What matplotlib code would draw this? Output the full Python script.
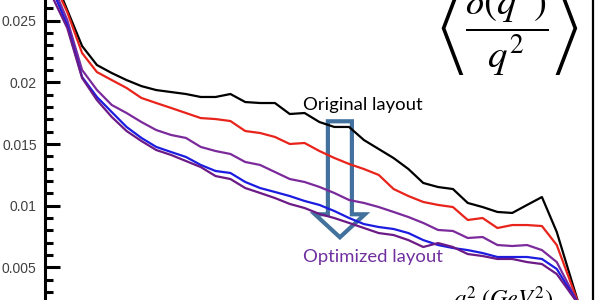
import matplotlib
matplotlib.use("Agg")
import matplotlib.pyplot as plt
from matplotlib.ticker import MultipleLocator
from matplotlib.patches import Polygon
from matplotlib.transforms import Affine2D

# q^2 bins (arbitrary bin units along the axis)
q2 = [0.5, 1.5, 2.5, 3.5, 4.5, 5.5, 6.5, 7.5, 8.5, 9.5,
      10.5, 11.5, 12.5, 13.5, 14.5, 15.5, 16.5, 17.5, 18.5, 19.5,
      20.5, 21.5, 22.5, 23.5, 24.5, 25.5, 26.5, 27.5, 28.5, 29.5,
      30.5, 31.5, 32.5, 33.5, 34.5, 36.0]

original = [0.02881, 0.02587, 0.02295, 0.02141, 0.02076, 0.02019, 0.01970, 0.01938, 0.01922, 0.01906,
            0.01882, 0.01882, 0.01906, 0.01841, 0.01833, 0.01833, 0.01744, 0.01752, 0.01679, 0.01639,
            0.01639, 0.01533, 0.01460, 0.01387, 0.01298, 0.01185, 0.01152, 0.01136, 0.01023, 0.00990,
            0.00950, 0.00942, 0.01007, 0.01071, 0.00788, 0.00196]
step1 = [0.02830, 0.02570, 0.02238, 0.02084, 0.02019, 0.01955, 0.01874, 0.01833, 0.01793, 0.01752,
         0.01711, 0.01703, 0.01687, 0.01606, 0.01590, 0.01558, 0.01501, 0.01509, 0.01444, 0.01388,
         0.01339, 0.01298, 0.01250, 0.01136, 0.01079, 0.01031, 0.01007, 0.00990, 0.00885, 0.00901,
         0.00820, 0.00844, 0.00844, 0.00836, 0.00682, 0.00196]
step2 = [0.02789, 0.02506, 0.02101, 0.01939, 0.01817, 0.01752, 0.01679, 0.01614, 0.01574, 0.01550,
         0.01477, 0.01444, 0.01420, 0.01355, 0.01331, 0.01274, 0.01217, 0.01193, 0.01153, 0.01104,
         0.01047, 0.01023, 0.00990, 0.00950, 0.00909, 0.00861, 0.00804, 0.00796, 0.00739, 0.00747,
         0.00682, 0.00674, 0.00682, 0.00641, 0.00544, 0.00196]
step3 = [0.02749, 0.02465, 0.02044, 0.01882, 0.01760, 0.01639, 0.01550, 0.01477, 0.01436, 0.01396,
         0.01331, 0.01282, 0.01266, 0.01193, 0.01144, 0.01112, 0.01079, 0.01039, 0.01007, 0.00958,
         0.00901, 0.00852, 0.00828, 0.00812, 0.00779, 0.00722, 0.00682, 0.00658, 0.00641, 0.00617,
         0.00585, 0.00585, 0.00585, 0.00569, 0.00488, 0.00196]
optimized = [0.02692, 0.02441, 0.02036, 0.01857, 0.01720, 0.01606, 0.01525, 0.01452, 0.01412, 0.01363,
             0.01314, 0.01241, 0.01217, 0.01144, 0.01104, 0.01063, 0.01015, 0.00982, 0.00934, 0.00901,
             0.00861, 0.00820, 0.00779, 0.00763, 0.00722, 0.00666, 0.00698, 0.00666, 0.00609, 0.00593,
             0.00569, 0.00569, 0.00544, 0.00528, 0.00447, 0.00196]

series = [original, step1, step2, step3, optimized]
colors = ['#000000', '#e8231b', '#7b2a9c', '#1c1ce0', '#6c1a86']

plt.rcParams['mathtext.fontset'] = 'stix'

fig = plt.figure(figsize=(6, 3), dpi=100)
ax = fig.add_axes([0.075, 0.0, 0.913, 1.0])

for vals, c in zip(series, colors):
    ax.plot(q2, vals, color=c, lw=1.6)

ax.set_xlim(0, 36.93)
ax.set_ylim(0.002365, 0.02668)

# axes: only left and right spines visible (picture is cropped)
ax.spines['top'].set_visible(False)
ax.spines['bottom'].set_visible(False)
ax.spines['left'].set_linewidth(2.2)
ax.spines['right'].set_linewidth(1.6)
ax.yaxis.set_major_locator(MultipleLocator(0.005))
ax.yaxis.set_minor_locator(MultipleLocator(0.001))
ax.yaxis.set_major_formatter(plt.FuncFormatter(lambda v, p: '%g' % round(v, 4)))
ax.tick_params(axis='y', which='major', direction='in', length=11, width=2.2,
               labelsize=10, labelcolor='#404040', pad=6)
ax.tick_params(axis='y', which='minor', direction='in', length=6, width=2.2)
for lab in ax.get_yticklabels():
    lab.set_family('Liberation Sans')
ax.set_xticks([])

# hollow down arrow (in pixels, anchored at its top centre)
ax_x, ax_y = ax.transData.transform((19.88, 0.01685))
arrow = Polygon([(-12, 0), (12, 0), (12, -93), (25, -93), (0, -116), (-25, -93), (-12, -93)],
                closed=True, fill=False, edgecolor='#41719c', lw=3, joinstyle='miter',
                transform=Affine2D().translate(ax_x, ax_y), clip_on=False)
ax.add_artist(arrow)

ax.text(0.471, 0.65, 'Original layout', transform=ax.transAxes, fontsize=13.3,
        family='Lato', color='black', ha='left', va='center')
ax.text(0.471, 0.143, 'Optimized layout', transform=ax.transAxes, fontsize=13.3,
        family='Lato', color='#7030a0', ha='left', va='center')

ax.text(0.845, 1.07, r'$\left\langle\dfrac{\delta(q^2)}{q^2}\right\rangle$',
        transform=ax.transAxes, fontsize=28, ha='center', va='top')
ax.text(0.836, -0.05, r'$q^2\;(GeV^2)$', transform=ax.transAxes, fontsize=17.5,
        ha='center', va='bottom')

fig.savefig('out.png', dpi=100)
